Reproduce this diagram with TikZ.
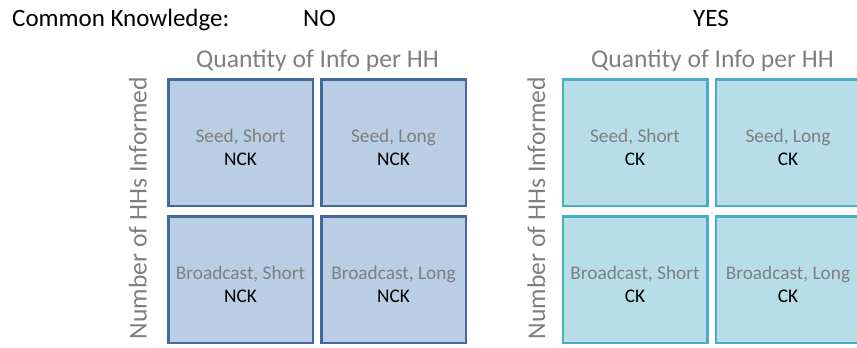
\documentclass[tikz,border=0pt]{standalone}
\usepackage{fontspec}
\setmainfont{Carlito}
\usepackage{xcolor}
\usepackage{tikz}
\usetikzlibrary{positioning}
\definecolor{nckline}{HTML}{41699C}
\definecolor{nckfill}{HTML}{B9CDE5}
\definecolor{ckline}{HTML}{4BACC6}
\definecolor{ckfill}{HTML}{B7DEE8}
\definecolor{axisgray}{HTML}{7F7F7F}

\begin{document}
\begin{tikzpicture}[x=1pt,y=-1pt,
        ncell/.style={draw=nckline,fill=nckfill,line width=2.5pt,minimum width=144.5pt,minimum height=126.5pt,inner sep=0pt,outer sep=1.25pt},
        ccell/.style={ncell,draw=ckline,fill=ckfill},
        celltext/.style={align=center,inner sep=0pt,font=\fontsize{19.3}{23}\selectfont},
        axistitle/.style={text=axisgray,inner sep=0pt,font=\fontsize{25.6}{30}\selectfont},
        header/.style={anchor=base west,inner sep=0pt,font=\fontsize{25}{30}\selectfont}]
        \useasboundingbox (0,0) rectangle (857,348);

        \node[header] (ck) at (12,27) {Common Knowledge:};
        \node[header] (no) at (303,27) {NO};
        \node[header] (yes) at (693,27) {YES};

        % no common knowledge
        \node[ncell] (nss) at (240.5,142.5) {};
        \node[ncell,right=6pt of nss] (nsl) {};
        \node[ncell,below=8pt of nss] (nbs) {};
        \node[ncell,below=8pt of nsl] (nbl) {};
        \node[celltext] at ([yshift=-5pt]nss.center) {\textcolor{axisgray}{Seed, Short}\\NCK};
        \node[celltext] at ([yshift=-5pt]nsl.center) {\textcolor{axisgray}{Seed, Long}\\NCK};
        \node[celltext] at ([yshift=-5pt]nbs.center) {\textcolor{axisgray}{Broadcast, Short}\\NCK};
        \node[celltext] at ([yshift=-5pt]nbl.center) {\textcolor{axisgray}{Broadcast, Long}\\NCK};
        \node[axistitle,anchor=base] (nqty) at (317.5,67) {Quantity of Info per HH};
        \node[axistitle,rotate=90,anchor=base] (nnum) at (146.5,208) {Number of HHs Informed};

        % common knowledge
        \node[ccell] (css) at (635,142.5) {};
        \node[ccell,right=6pt of css] (csl) {};
        \node[ccell,below=8pt of css] (cbs) {};
        \node[ccell,below=8pt of csl] (cbl) {};
        \node[celltext] at ([yshift=-5pt]css.center) {\textcolor{axisgray}{Seed, Short}\\CK};
        \node[celltext] at ([yshift=-5pt]csl.center) {\textcolor{axisgray}{Seed, Long}\\CK};
        \node[celltext] at ([yshift=-5pt]cbs.center) {\textcolor{axisgray}{Broadcast, Short}\\CK};
        \node[celltext] at ([yshift=-5pt]cbl.center) {\textcolor{axisgray}{Broadcast, Long}\\CK};
        \node[axistitle,anchor=base] (cqty) at (712.5,67) {Quantity of Info per HH};
        \node[axistitle,rotate=90,anchor=base] (cnum) at (545,208) {Number of HHs Informed};
\end{tikzpicture}
\end{document}
